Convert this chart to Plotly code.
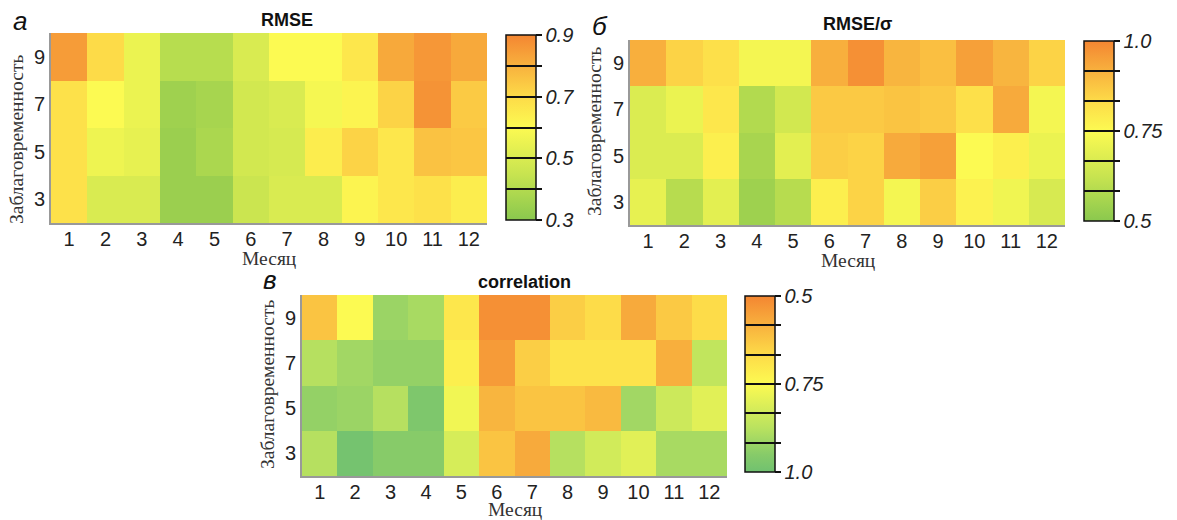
import plotly.graph_objects as go

months = list(range(1, 13))
leads = [3, 5, 7, 9]

# rows: lead 3, 5, 7, 9 ; columns: months 1..12
rmse = [
    [0.68, 0.50, 0.50, 0.34, 0.34, 0.46, 0.50, 0.50, 0.62, 0.66, 0.68, 0.64],
    [0.68, 0.56, 0.54, 0.34, 0.38, 0.48, 0.49, 0.64, 0.72, 0.66, 0.76, 0.75],
    [0.68, 0.60, 0.55, 0.35, 0.37, 0.48, 0.50, 0.58, 0.62, 0.72, 0.87, 0.74],
    [0.85, 0.70, 0.55, 0.41, 0.41, 0.50, 0.60, 0.60, 0.66, 0.82, 0.86, 0.82],
]
rmse_sigma = [
    [0.70, 0.59, 0.69, 0.54, 0.59, 0.78, 0.85, 0.73, 0.86, 0.77, 0.72, 0.66],
    [0.67, 0.67, 0.78, 0.56, 0.69, 0.86, 0.85, 0.93, 0.95, 0.75, 0.78, 0.71],
    [0.67, 0.71, 0.80, 0.58, 0.65, 0.87, 0.87, 0.88, 0.87, 0.82, 0.93, 0.73],
    [0.92, 0.85, 0.82, 0.73, 0.73, 0.92, 0.98, 0.91, 0.89, 0.95, 0.91, 0.85],
]
correlation = [
    [0.88, 0.99, 0.95, 0.95, 0.82, 0.62, 0.57, 0.88, 0.83, 0.80, 0.90, 0.90],
    [0.93, 0.92, 0.88, 0.97, 0.77, 0.59, 0.62, 0.62, 0.60, 0.91, 0.84, 0.80],
    [0.88, 0.91, 0.93, 0.93, 0.72, 0.54, 0.64, 0.69, 0.69, 0.69, 0.58, 0.86],
    [0.62, 0.75, 0.92, 0.90, 0.70, 0.52, 0.52, 0.64, 0.67, 0.57, 0.63, 0.67],
]

rmse_ticks = [0.3, 0.4, 0.5, 0.6, 0.7, 0.8, 0.9]
rmse_labels = ["0.3", "", "0.5", "", "0.7", "", "0.9"]
rs_ticks = [0.5 + i / 12 for i in range(7)]
rs_labels = ["0.5", "", "", "0.75", "", "", "1.0"]
corr_ticks = [-1.0 + i / 12 for i in range(7)]
corr_labels = ["1.0", "", "", "0.75", "", "", "0.5"]

cscale = [
    [0.0, "rgb(138,200,78)"],
    [0.25, "rgb(200,228,80)"],
    [0.5, "rgb(252,250,82)"],
    [0.67, "rgb(253,218,72)"],
    [0.83, "rgb(248,178,62)"],
    [1.0, "rgb(244,134,50)"],
]
cscale_corr = [
    [0.0, "rgb(112,193,112)"],
    [0.1, "rgb(135,203,105)"],
    [0.25, "rgb(185,226,95)"],
    [0.5, "rgb(252,250,82)"],
    [0.67, "rgb(253,218,72)"],
    [0.83, "rgb(248,178,62)"],
    [1.0, "rgb(244,134,50)"],
]
clear = [[0, "rgba(0,0,0,0)"], [1, "rgba(0,0,0,0)"]]

# page body has an 8px margin: positions are given in window pixels and shifted by it
OFF = 8
W, H = 1177 - 2 * OFF, 520 - OFF


def px(v):
    return (v - OFF) / W


def py(v):
    return 1 - (v - OFF) / H


tick_font = dict(family="Liberation Sans, Arial", size=20, color="#222")
cb_font = dict(family="Liberation Sans, Arial", size=20, color="#222", style="italic")
serif = dict(family="Liberation Serif, Times New Roman", size=19.5, color="#333")

panels = [
    # key, z, zmin, zmax, colorscale, ticks, labels, plot box, colorbar box, title, letter,
    # title xy, letter xy, x-title y, y-title (x, y)
    ("", rmse, 0.3, 0.9, cscale, rmse_ticks, rmse_labels, (51, 487, 33, 223), (506, 35, 220),
     "RMSE", "а", (287, 20), (20, 21), 258, (16, 140)),
    ("2", rmse_sigma, 0.5, 1.0, cscale, rs_ticks, rs_labels, (630, 1065, 40, 225), (1084, 41, 221),
     "RMSE/σ", "б", (857, 24), (600, 26), 260, (594, 132)),
    ("3", [[-v for v in row] for row in correlation], -1.0, -0.5, cscale_corr, corr_ticks, corr_labels,
     (302, 727, 295, 476), (745, 296, 472), "correlation", "в", (524, 282), (270, 280), 509, (267, 385)),
]

fig = go.Figure()
annotations = []
layout = {}
for i, (k, z, zmin, zmax, cs, tv, tt, (x0, x1, y0, y1), (cx, cy0, cy1), title, letter,
        (tx, ty), (lx, ly), xty, (ytx, yty)) in enumerate(panels):
    xa, ya = "x" + k, "y" + k
    cd = correlation if i == 2 else z
    cb_common = dict(
        x=px(cx), xanchor="left", y=py(cy1), yanchor="bottom",
        len=cy1 - cy0, lenmode="pixels", thickness=30, thicknessmode="pixels",
        xpad=0, ypad=0, tickmode="array", tickvals=tv, tickwidth=1.5, tickcolor="#111",
    )
    fig.add_trace(go.Heatmap(
        z=z, x=months, y=leads, xaxis=xa, yaxis=ya, customdata=cd,
        hovertemplate="Месяц %{x}<br>Заблаговременность %{y}<br>%{customdata}<extra></extra>",
        colorscale=cs, zmin=zmin, zmax=zmax, showscale=True,
        colorbar=dict(
            **cb_common, outlinewidth=1.5, outlinecolor="#111",
            ticktext=[""] * len(tv), ticks="inside", ticklen=30, showticklabels=False,
        ),
    ))
    # transparent companion scale: draws the outside tick stubs and the labels
    fig.add_trace(go.Scatter(
        x=[-5], y=[-5], xaxis=xa, yaxis=ya, mode="markers", hoverinfo="skip",
        marker=dict(color=[zmin], colorscale=clear, cmin=zmin, cmax=zmax, opacity=0,
                    showscale=True,
                    colorbar=dict(**cb_common, outlinewidth=0, ticktext=tt,
                                  ticks="outside", ticklen=6, tickfont=cb_font)),
    ))
    layout["xaxis" + k] = dict(
        domain=[px(x0), px(x1)], anchor=ya, range=[0.5, 12.5], automargin=False,
        tickmode="array", tickvals=months, ticks="", tickfont=tick_font, ticklabelstandoff=-3,
        showline=True, linecolor="#999", linewidth=2, showgrid=False, zeroline=False,
        fixedrange=True,
    )
    layout["yaxis" + k] = dict(
        domain=[py(y1), py(y0)], anchor=xa, range=[2, 10], automargin=False,
        tickmode="array", tickvals=leads, ticks="", tickfont=tick_font,
        showline=True, linecolor="#999", linewidth=2, showgrid=False, zeroline=False,
        fixedrange=True,
    )
    annotations.append(dict(
        text="<b>" + title + "</b>", x=px(tx), y=py(ty), xref="paper", yref="paper",
        showarrow=False, xanchor="center", yanchor="middle",
        font=dict(family="Liberation Sans, Arial", size=18, color="#111"),
    ))
    annotations.append(dict(
        text=letter, x=px(lx), y=py(ly), xref="paper", yref="paper",
        showarrow=False, xanchor="center", yanchor="middle",
        font=dict(family="Liberation Sans, Arial", size=26, color="#111", style="italic"),
    ))
    annotations.append(dict(
        text="Месяц", x=px((x0 + x1) / 2), y=py(xty), xref="paper", yref="paper",
        showarrow=False, xanchor="center", yanchor="middle", font=serif,
    ))
    annotations.append(dict(
        text="Заблаговременность", x=px(ytx), y=py(yty), xref="paper", yref="paper",
        showarrow=False, xanchor="center", yanchor="middle", textangle=-90, font=serif,
    ))

fig.update_layout(
    width=W, height=H, margin=dict(l=0, r=0, t=0, b=0, autoexpand=False),
    paper_bgcolor="white", plot_bgcolor="white",
    showlegend=False, annotations=annotations, **layout,
)
fig.write_html("out.html")
